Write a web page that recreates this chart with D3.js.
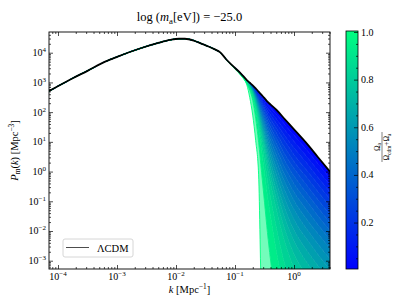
<!DOCTYPE html>
<html>
<head>
<meta charset="utf-8">
<script src="https://cdnjs.cloudflare.com/ajax/libs/d3/7.8.5/d3.min.js"></script>
<style>
body { margin: 0; background: #fff; }
svg { display: block; font-family: "Liberation Serif", "DejaVu Serif", serif; }
</style>
</head>
<body>
<script>
// log10 k [Mpc^-1] of the nodes
var logK = [-4.15, -3.75, -3.5, -3.2, -3.0, -2.6, -2.3, -2.1, -1.95, -1.85, -1.7, -1.55, -1.45, -1.35, -1.25, -1.15,
    -1.05, -0.9, -0.8, -0.75, -0.7, -0.65, -0.6, -0.55, -0.5, -0.45, -0.4, -0.3, -0.15, 0.0, 0.2, 0.4, 0.62];
// LCDM log10 P(k)
var lcdmLogP = [2.71, 3.14, 3.39, 3.70, 3.86, 4.15, 4.33, 4.43, 4.47, 4.47, 4.41, 4.29, 4.21, 4.12, 4.01, 3.78,
    3.58, 3.30, 3.08, 2.99, 2.90, 2.80, 2.69, 2.58, 2.47, 2.35, 2.26, 2.08, 1.75, 1.42, 0.98, 0.50, -0.03];

// axion fraction of each coloured curve
var fracs = [0.05, 0.10, 0.15, 0.20, 0.25, 0.30, 0.35, 0.40, 0.45, 0.50,
    0.55, 0.60, 0.65, 0.70, 0.75, 0.80, 0.85, 0.90, 0.95, 1.00];
// suppression below LCDM in decades, on the last 17 nodes (k >= 10^-1.05)
var suppression = [
    [0, 0, 0, 0.01, 0.01, 0.02, 0.04, 0.06, 0.08, 0.10, 0.11, 0.15, 0.18, 0.20, 0.21, 0.22, 0.22],
    [0, 0, 0.01, 0.01, 0.02, 0.05, 0.08, 0.12, 0.16, 0.20, 0.23, 0.30, 0.37, 0.41, 0.44, 0.45, 0.45],
    [0, 0, 0.01, 0.02, 0.03, 0.07, 0.12, 0.18, 0.24, 0.30, 0.35, 0.45, 0.56, 0.63, 0.66, 0.68, 0.68],
    [0, 0.01, 0.01, 0.02, 0.05, 0.09, 0.16, 0.24, 0.32, 0.40, 0.48, 0.61, 0.75, 0.85, 0.90, 0.91, 0.92],
    [0, 0.01, 0.02, 0.03, 0.06, 0.12, 0.20, 0.30, 0.41, 0.51, 0.61, 0.77, 0.96, 1.08, 1.14, 1.16, 1.17],
    [0, 0.01, 0.02, 0.04, 0.07, 0.14, 0.24, 0.37, 0.50, 0.63, 0.75, 0.95, 1.18, 1.32, 1.40, 1.43, 1.44],
    [0, 0.01, 0.02, 0.04, 0.09, 0.17, 0.29, 0.44, 0.60, 0.75, 0.89, 1.13, 1.40, 1.57, 1.67, 1.70, 1.71],
    [0, 0.01, 0.03, 0.05, 0.10, 0.20, 0.34, 0.52, 0.70, 0.88, 1.03, 1.31, 1.63, 1.83, 1.94, 1.98, 1.99],
    [0, 0.01, 0.03, 0.06, 0.11, 0.23, 0.39, 0.60, 0.80, 1.01, 1.19, 1.51, 1.88, 2.11, 2.23, 2.27, 2.29],
    [0.01, 0.02, 0.03, 0.07, 0.13, 0.26, 0.44, 0.68, 0.91, 1.14, 1.35, 1.72, 2.13, 2.39, 2.54, 2.58, 2.60],
    [0.01, 0.02, 0.04, 0.07, 0.15, 0.29, 0.50, 0.76, 1.03, 1.29, 1.53, 1.94, 2.41, 2.70, 2.87, 2.92, 2.94],
    [0.01, 0.02, 0.04, 0.08, 0.16, 0.33, 0.56, 0.86, 1.15, 1.45, 1.71, 2.17, 2.70, 3.03, 3.21, 3.27, 3.29],
    [0.01, 0.02, 0.05, 0.09, 0.18, 0.37, 0.63, 0.96, 1.29, 1.62, 1.91, 2.43, 3.02, 3.39, 3.59, 3.65, 3.68],
    [0.01, 0.02, 0.05, 0.10, 0.20, 0.41, 0.70, 1.06, 1.43, 1.80, 2.13, 2.70, 3.35, 3.76, 3.99, 4.06, 4.09],
    [0.01, 0.03, 0.06, 0.11, 0.23, 0.46, 0.77, 1.18, 1.59, 2.00, 2.37, 3.00, 3.73, 4.19, 4.44, 4.52, 4.55],
    [0.01, 0.03, 0.07, 0.13, 0.25, 0.51, 0.86, 1.32, 1.77, 2.23, 2.64, 3.35, 4.16, 4.66, 4.94, 5.03, 5.07],
    [0.01, 0.04, 0.08, 0.15, 0.30, 0.60, 1.02, 1.56, 2.10, 2.64, 3.12, 3.96, 4.92, 5.52, 5.85, 5.96, 6.00],
    [0.01, 0.04, 0.09, 0.18, 0.36, 0.72, 1.22, 1.87, 2.52, 3.17, 3.74, 4.75, 5.90, 6.62, 7.02, 7.15, 7.20],
    [0.02, 0.06, 0.13, 0.25, 0.50, 1.00, 1.70, 2.60, 3.50, 4.40, 5.20, 6.60, 8.20, 9.20, 9.75, 9.93, 10.0],
    [0.03, 0.07, 0.16, 0.50, 1.00, 1.75, 2.80, 7.0, 8.0, 9.0, 10.0, 11.5, 13.0, 15.0, 17.0, 19.0, 21.0]
];
var tailStart = logK.length - suppression[0].length;

var xLim = [-4.1525, 0.61];      // log10 of axis limits
var yLim = [-3.279, 4.697];
var xMajor = [-4, -3, -2, -1, 0];
var yMajor = [-3, -2, -1, 0, 1, 2, 3, 4];
var cbarLim = [0.005, 1.0];
var cbarMajor = [0.2, 0.4, 0.6, 0.8, 1.0];
var cbarMinor = [0.05, 0.1, 0.15, 0.25, 0.3, 0.35, 0.45, 0.5, 0.55, 0.65, 0.7, 0.75, 0.85, 0.9, 0.95];

var width = 411;
var height = 308;
var pL = 49, pR = 330, pT = 32, pB = 269;

function winter(f) {
    return d3.rgb(0, Math.round(255 * f), Math.round(255 - 127.5 * f)).toString();
}
function minors(lim) {
    var out = [];
    for (var d = Math.floor(lim[0]); d <= Math.ceil(lim[1]); d++) {
        for (var m = 2; m <= 9; m++) {
            var v = m * Math.pow(10, d);
            if (Math.log10(v) >= lim[0] && Math.log10(v) <= lim[1]) out.push(v);
        }
    }
    return out;
}
// text with italic / sub / sup pieces
function rich(sel, parts, size) {
    var off = 0;
    parts.forEach(function (p) {
        var target = p.k === "sup" ? -0.4 * size : p.k === "sub" ? 0.22 * size : 0;
        var t = sel.append("tspan").text(p.t).attr("dy", target - off);
        off = target;
        if (p.k) t.attr("font-size", size * 0.7);
        if (p.i) t.attr("font-style", "italic");
    });
}

var x = d3.scaleLog().domain([Math.pow(10, xLim[0]), Math.pow(10, xLim[1])]).range([pL, pR]);
var y = d3.scaleLog().domain([Math.pow(10, yLim[0]), Math.pow(10, yLim[1])]).range([pB, pT]);
var c = d3.scaleLinear().domain(cbarLim).range([pB, pT]);

var svg = d3.select("body").append("svg").attr("width", width).attr("height", height);

svg.append("defs").append("clipPath").attr("id", "plotclip")
    .append("rect").attr("x", pL).attr("y", pT).attr("width", pR - pL).attr("height", pB - pT);

var lcdmPts = logK.map(function (lk, j) {
    return [x(Math.pow(10, lk)), y(Math.pow(10, lcdmLogP[j]))];
});
var pts = fracs.map(function (f, i) {
    return logK.map(function (lk, j) {
        var d = j >= tailStart ? suppression[i][j - tailStart] : 0;
        return [x(Math.pow(10, lk)), y(Math.pow(10, lcdmLogP[j] - d))];
    });
});

var plot = svg.append("g").attr("clip-path", "url(#plotclip)");

var area = d3.area().curve(d3.curveMonotoneX)
    .x(function (d) { return d[0]; })
    .y0(function (d) { return d[1]; })
    .y1(function (d) { return d[2]; });
var line = d3.line().curve(d3.curveMonotoneX);

// fill between neighbouring curves so the fan reads as a gradient
fracs.forEach(function (f, i) {
    var prev = i === 0 ? lcdmPts : pts[i - 1];
    var band = pts[i].map(function (p, j) { return [p[0], prev[j][1], p[1]]; });
    plot.append("path").attr("d", area(band))
        .attr("fill", winter(f - 0.025))
        .attr("fill-opacity", f === 1 ? 0.55 : 1);
});
fracs.forEach(function (f, i) {
    plot.append("path").attr("d", line(pts[i]))
        .attr("fill", "none").attr("stroke", winter(f)).attr("stroke-width", 0.9);
});
plot.append("path").attr("d", line(lcdmPts))
    .attr("fill", "none").attr("stroke", "#000").attr("stroke-width", 1.8);

// axes, ticks pointing inwards on all four sides
var xMaj = xMajor.map(function (e) { return Math.pow(10, e); });
var yMaj = yMajor.map(function (e) { return Math.pow(10, e); });
var xMin = minors(xLim), yMin = minors(yLim);

function axisG(gen, vals, size, tr) {
    var g = svg.append("g").attr("transform", tr)
        .call(gen.tickValues(vals).tickSizeInner(-size).tickSizeOuter(0).tickFormat(""));
    g.select(".domain").remove();
    g.selectAll("line").attr("stroke-width", 0.7);
    return g;
}
axisG(d3.axisBottom(x), xMaj, 4, "translate(0," + pB + ")");
axisG(d3.axisBottom(x), xMin, 2, "translate(0," + pB + ")");
axisG(d3.axisTop(x), xMaj, 4, "translate(0," + pT + ")");
axisG(d3.axisTop(x), xMin, 2, "translate(0," + pT + ")");
axisG(d3.axisLeft(y), yMaj, 4, "translate(" + pL + ",0)");
axisG(d3.axisLeft(y), yMin, 2, "translate(" + pL + ",0)");
axisG(d3.axisRight(y), yMaj, 4, "translate(" + pR + ",0)");
axisG(d3.axisRight(y), yMin, 2, "translate(" + pR + ",0)");

svg.append("rect").attr("x", pL).attr("y", pT).attr("width", pR - pL).attr("height", pB - pT)
    .attr("fill", "none").attr("stroke", "#000").attr("stroke-width", 0.9);

xMajor.forEach(function (e) {
    var t = svg.append("text").attr("x", x(Math.pow(10, e))).attr("y", pB + 11)
        .attr("text-anchor", "middle").attr("font-size", 10);
    rich(t, [{ t: "10" }, { t: e < 0 ? "\u2212" + (-e) : "" + e, k: "sup" }], 10);
});
yMajor.forEach(function (e) {
    var t = svg.append("text").attr("x", pL - 3).attr("y", y(Math.pow(10, e)) + 3.5)
        .attr("text-anchor", "end").attr("font-size", 10);
    rich(t, [{ t: "10" }, { t: e < 0 ? "\u2212" + (-e) : "" + e, k: "sup" }], 10);
});

// title and axis labels
var title = svg.append("text").attr("x", (pL + pR) / 2).attr("y", 21)
    .attr("text-anchor", "middle").attr("font-size", 12.5);
rich(title, [{ t: "log (" }, { t: "m", i: true }, { t: "a", k: "sub" }, { t: "[eV]) = \u221225.0" }], 12.5);

var xl = svg.append("text").attr("x", (pL + pR) / 2).attr("y", 293)
    .attr("text-anchor", "middle").attr("font-size", 10.5);
rich(xl, [{ t: "k", i: true }, { t: " [Mpc" }, { t: "\u22121", k: "sup" }, { t: "]" }], 10.5);

var yl = svg.append("text").attr("transform", "translate(18," + ((pT + pB) / 2) + ") rotate(-90)")
    .attr("text-anchor", "middle").attr("font-size", 10.5);
rich(yl, [{ t: "P", i: true }, { t: "m", k: "sub" }, { t: "(" }, { t: "k", i: true }, { t: ") [Mpc" },
    { t: "\u22123", k: "sup" }, { t: "]" }], 10.5);

// legend
var lg = svg.append("g");
lg.append("rect").attr("x", 63).attr("y", 239).attr("width", 70).attr("height", 18).attr("rx", 2)
    .attr("fill", "#fff").attr("fill-opacity", 0.8).attr("stroke", "#ccc").attr("stroke-width", 0.8);
lg.append("line").attr("x1", 66).attr("x2", 89).attr("y1", 247.5).attr("y2", 247.5)
    .attr("stroke", "#000").attr("stroke-width", 1.8);
lg.append("text").attr("x", 97).attr("y", 251.5).attr("font-size", 10.5).text("\u039BCDM");

// colorbar
var cbx = 346, cbw = 12;
var grad = svg.select("defs").append("linearGradient").attr("id", "wintergrad")
    .attr("x1", 0).attr("y1", 1).attr("x2", 0).attr("y2", 0);
grad.append("stop").attr("offset", 0).attr("stop-color", winter(cbarLim[0]));
grad.append("stop").attr("offset", 1).attr("stop-color", winter(cbarLim[1]));
svg.append("rect").attr("x", cbx).attr("y", pT - 1).attr("width", cbw).attr("height", pB - pT + 1)
    .attr("fill", "url(#wintergrad)").attr("stroke", "#000").attr("stroke-width", 0.8);

var cg = svg.append("g").attr("transform", "translate(" + (cbx + cbw) + ",0)")
    .call(d3.axisRight(c).tickValues(cbarMajor).tickSizeInner(-4).tickSizeOuter(0).tickFormat(""));
cg.select(".domain").remove();
var cg2 = svg.append("g").attr("transform", "translate(" + (cbx + cbw) + ",0)")
    .call(d3.axisRight(c).tickValues(cbarMinor).tickSizeInner(-2).tickSizeOuter(0).tickFormat(""));
cg2.select(".domain").remove();
svg.selectAll("g line").attr("stroke-width", 0.7);

svg.append("g").selectAll("text").data(cbarMajor).enter().append("text")
    .attr("x", cbx + cbw + 3).attr("y", function (d) { return c(d) + 3.5; })
    .attr("font-size", 10).text(function (d) { return d.toFixed(1); });

var cl = svg.append("g").attr("transform", "translate(382,147) rotate(-90)").attr("font-size", 7.5);
var num = cl.append("text").attr("y", -2.5).attr("text-anchor", "middle");
rich(num, [{ t: "\u03A9" }, { t: "a", k: "sub" }], 7.5);
cl.append("line").attr("x1", -15).attr("x2", 15).attr("y1", 0).attr("y2", 0)
    .attr("stroke", "#000").attr("stroke-width", 0.5);
var den = cl.append("text").attr("y", 7).attr("text-anchor", "middle");
rich(den, [{ t: "\u03A9" }, { t: "cdm", k: "sub" }, { t: "+\u03A9" }, { t: "a", k: "sub" }], 7.5);
</script>
</body>
</html>
